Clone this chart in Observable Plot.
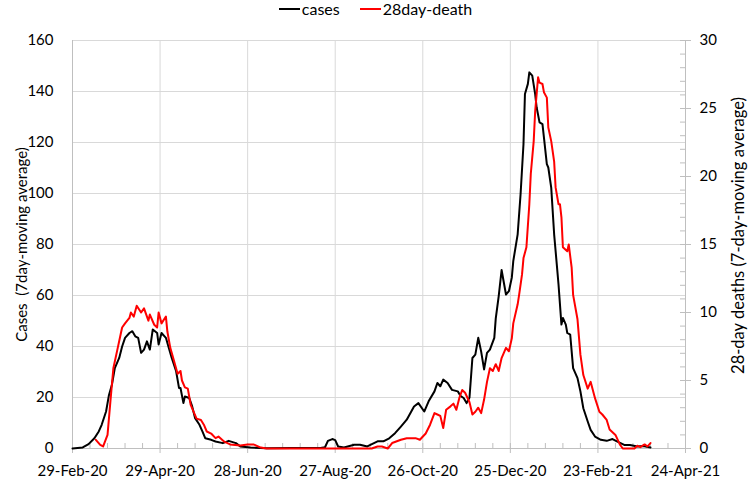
<!DOCTYPE html>
<html>
<head>
<meta charset="utf-8">
<script src="https://cdn.jsdelivr.net/npm/d3@7"></script>
<script src="https://cdn.jsdelivr.net/npm/@observablehq/plot@0.6"></script>
<style>
  html, body { margin: 0; padding: 0; background: #fff; }
  #legend { height: 20px; display: flex; justify-content: center; align-items: center; font: 16px Lato, sans-serif; color: #000; padding-left: 2px; box-sizing: border-box; padding-bottom: 3px; }
  #legend .item { display: flex; align-items: center; }
  #legend .sw { display: inline-block; width: 21px; height: 2px; margin-right: 2px; }
  #chart svg { display: block; }
</style>
</head>
<body>
<div id="legend"></div>
<div id="chart"></div>
<script>
// ---- data ----
const startDate = [2020, 1, 29]; // 29-Feb-2020 (day 0)
const seriesNames = ["cases", "28day-death"];
const seriesColors = ["#000000", "#ff0000"];

const caseDay = [0,7,11,15,18,20,23,25,27,29,32,34,36,39,41,43,45,47,49,51,53,55,58,59,61,64,66,68,71,73,74,76,77,80,82,84,87,89,91,95,98,103,107,112,115,122,133,150,170,173,175,178,180,182,186,193,197,202,209,213,217,221,225,229,234,237,241,244,248,250,252,254,257,260,264,266,268,270,272,274,276,278,280,282,284,286,289,290,292,294,297,299,301,302,305,307,309,310,312,313,315,317,318,320,322,323,325,326,328,330,332,333,335,336,338,339,341,343,346,348,350,353,355,358,362,366,370,373,378,382,387,391,396];
const caseValue = [0,0.4,1.7,4,6.7,9.3,14.5,21,25,31.5,35.5,40,43.4,45.3,46,44,43.4,37.5,38.8,42,38.8,46.7,45.3,40.8,45.3,43.4,39.4,35.5,30.3,23.7,23.7,17.8,20.4,19.8,16.5,11.9,9.3,6.7,4,3.4,2.75,2.1,3,2.1,0.8,0.4,0.1,0.2,0.2,0.5,3,3.7,3.3,0.8,0.4,1.5,1.5,0.8,2.8,2.8,4,6,8.6,11.3,16.5,17.8,14.5,18.5,22.4,25.7,24.4,27,25.7,23,22.4,20.5,19.8,17.8,20,35.5,36.8,43.4,38,31,37.5,38.8,43.4,51,59.7,70,60.4,61.7,67,73.5,84,99.7,119.4,139,143,147.5,146.2,139,133.8,127.9,127.2,122,111.5,110.2,102.3,84,70.9,64.3,48.6,51.2,48.6,45.3,44.7,31.5,27.6,22.4,15.8,10.6,7.3,4.7,3.4,3,3.7,2.8,1.4,1.4,0.8,1,0.4];

const deathDay = [16,19,21,24,26,28,31,33,34,36,39,40,42,44,47,49,52,53,56,58,59,61,64,65,67,69,72,74,75,77,79,81,83,85,88,90,92,95,98,100,104,108,115,120,124,129,133,205,209,212,216,219,225,229,235,238,242,245,248,250,252,254,256,259,261,263,265,267,269,272,274,276,278,280,282,284,286,288,290,292,294,297,299,301,302,305,306,308,309,311,313,314,316,317,319,320,322,323,325,326,328,330,331,333,334,335,336,339,340,342,343,346,348,350,353,355,358,361,363,366,368,372,375,377,385,387,389,392,394,396];
const deathValue = [0.64,0.27,0.15,1,3.5,5.9,7.4,8.4,8.9,9.2,9.6,10,9.7,10.5,10,10.3,9.4,9.85,9.1,8.9,10,9.2,9.7,8.6,7.4,6.65,5.5,5.7,5.0,4.5,4.4,3.2,2.7,2.2,2.1,1.75,1.25,1.1,0.76,0.88,0.5,0.3,0.22,0.3,0.3,0.07,0,0,0.15,0.15,0,0.4,0.64,0.76,0.76,0.64,1.1,1.75,2.6,2.5,2.4,1.5,2.85,3.1,3.3,2.85,3.7,4.3,4.1,3.4,2.5,2.7,3.0,2.6,3.6,4.9,5.9,5.7,6.2,5.7,6.65,7.4,7.15,8.1,9.2,10.6,11.3,12.8,14,14.8,17.96,20.2,22.6,24.8,27.3,26.9,26.8,26.2,25.8,23.6,22.6,21.1,19.2,17.96,17.96,17,14.8,14.5,15,13.3,11.3,9.5,6.9,5.4,4.4,4.9,3.7,2.7,2.5,2.1,1.4,1.0,0.3,0,0,0.2,0.1,0.3,0.15,0.4];

const xTickDays = [0, 60, 120, 180, 240, 300, 360, 420];
const xTickLabels = ["29-Feb-20", "29-Apr-20", "28-Jun-20", "27-Aug-20", "26-Oct-20", "25-Dec-20", "23-Feb-21", "24-Apr-21"];
const leftTicks = [0, 20, 40, 60, 80, 100, 120, 140, 160];
const rightTicks = [0, 5, 10, 15, 20, 25, 30];
const leftDomain = [0, 160];
const rightDomain = [0, 30];
const leftTitle = "Cases  (7day-moving average)";
const rightTitle = "28-day deaths (7-day-moving average)";

// ---- build ----
const toDate = d => new Date(Date.UTC(startDate[0], startDate[1], startDate[2] + d));
const k = leftDomain[1] / rightDomain[1];
const cases = caseDay.map((d, i) => ({date: toDate(d), value: caseValue[i]}));
const deaths = deathDay.map((d, i) => ({date: toDate(d), value: deathValue[i]}));
const xTicks = xTickDays.map(toDate);
const labelOf = new Map(xTickDays.map((d, i) => [+toDate(d), xTickLabels[i]]));
const minorX = d3.range(xTickDays[0], xTickDays[xTickDays.length - 1] + 1, 12).map(toDate);
const minorRight = d3.range(rightDomain[0], rightDomain[1] + 1, 1).map(v => v * k);

const W = 749, H = 462, mT = 20, mB = 34, mL = 72, mR = 64;
const grid = "#d9d9d9", axisCol = "#bfbfbf";

// legend
const legend = document.getElementById("legend");
seriesNames.forEach((name, i) => {
  const it = document.createElement("span");
  it.className = "item";
  if (i > 0) it.style.marginLeft = "20px";
  const sw = document.createElement("span");
  sw.className = "sw";
  sw.style.background = seriesColors[i];
  it.appendChild(sw);
  it.appendChild(document.createTextNode(name));
  legend.appendChild(it);
});

const chart = Plot.plot({
  width: W, height: H,
  marginTop: mT, marginBottom: mB, marginLeft: mL, marginRight: mR,
  style: {fontFamily: "Lato, sans-serif", fontSize: "15px", color: "#000", background: "#fff", overflow: "visible"},
  x: {type: "utc", domain: [xTicks[0], xTicks[xTicks.length - 1]]},
  y: {domain: leftDomain},
  marks: [
    Plot.gridY(leftTicks, {stroke: grid, strokeOpacity: 1}),
    Plot.gridX(xTicks, {stroke: grid, strokeOpacity: 1}),
    Plot.ruleX(minorX, {x: d => d, insetTop: H - mT - mB - 5, stroke: axisCol}),
    Plot.ruleY(minorRight, {y: d => d, insetLeft: W - mL - mR - 5, stroke: axisCol}),
    Plot.ruleX([xTicks[0]], {x: d => d, stroke: axisCol}),
    Plot.ruleX([xTicks[xTicks.length - 1]], {x: d => d, stroke: axisCol}),
    Plot.ruleY([0], {stroke: axisCol}),
    Plot.axisY(leftTicks, {anchor: "left", tickSize: 0, tickPadding: 19, label: leftTitle, labelAnchor: "center", labelOffset: 56, labelArrow: "none"}),
    Plot.axisY(rightTicks.map(v => v * k), {anchor: "right", tickSize: 5, tickPadding: 9, stroke: axisCol,
      tickFormat: v => String(Math.round(v / k)), label: null}),
    Plot.text([rightTitle], {text: d => d, frameAnchor: "right", textAnchor: "middle", lineAnchor: "middle", rotate: -90, dx: 53, dy: -9, fontSize: 16.5, fill: "#000"}),
    Plot.axisX(xTicks, {anchor: "bottom", tickSize: 5, tickPadding: 12, stroke: axisCol, tickFormat: d => labelOf.get(+d), label: null}),
    Plot.line(cases, {x: "date", y: "value", stroke: seriesColors[0], strokeWidth: 2}),
    Plot.line(deaths, {x: "date", y: d => d.value * k, stroke: seriesColors[1], strokeWidth: 2})
  ]
});
document.getElementById("chart").appendChild(chart);
</script>
</body>
</html>
